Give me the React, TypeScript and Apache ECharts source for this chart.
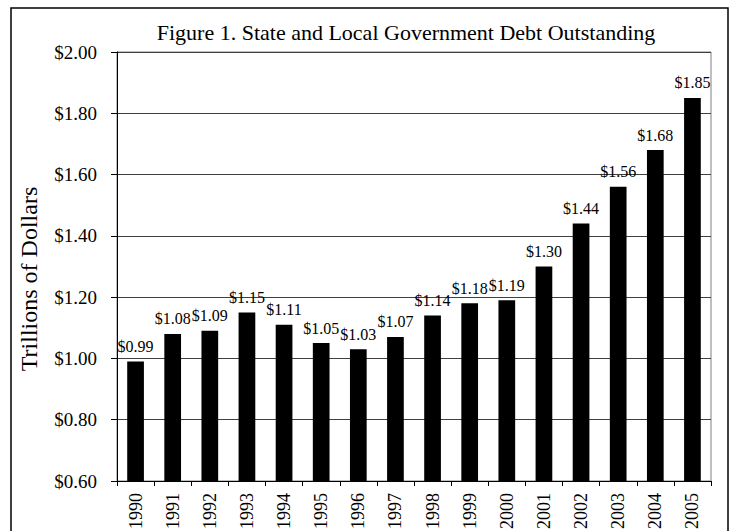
import React, { useEffect, useRef } from "react";
import * as echarts from "echarts";

const years = ["1990","1991","1992","1993","1994","1995","1996","1997","1998","1999","2000","2001","2002","2003","2004","2005"];
const debt = [0.99, 1.08, 1.09, 1.15, 1.11, 1.05, 1.03, 1.07, 1.14, 1.18, 1.19, 1.30, 1.44, 1.56, 1.68, 1.85];
const titleText = "Figure 1. State and Local Government Debt Outstanding";
const yAxisTitle = "Trillions of Dollars";

const FONT = "Liberation Serif";

export default function App() {
  const ref = useRef<HTMLDivElement>(null);
  useEffect(() => {
    const chart = echarts.init(ref.current!, null, { renderer: "svg" });
    chart.setOption({
      animation: false,
      backgroundColor: "#fff",
      title: {
        text: titleText,
        left: 401,
        textAlign: "center",
        top: 16,
        textStyle: { fontFamily: FONT, fontSize: 22, fontWeight: "normal", color: "#000" },
      },
      graphic: [
        {
          type: "rect",
          shape: { x: 11, y: 8, width: 717, height: 540 },
          style: { fill: "none", stroke: "#000", lineWidth: 1.5 },
          silent: true,
        },
        {
          type: "text",
          x: 29,
          y: 279,
          rotation: Math.PI / 2,
          style: {
            text: yAxisTitle,
            fontFamily: FONT,
            fontSize: 24,
            fill: "#000",
            align: "center",
            verticalAlign: "middle",
          },
        },
      ],
      grid: {
        left: 117, right: 22, top: 52, bottom: 50,
        outerBoundsMode: "none", containLabel: false,
        show: true, borderColor: "#808080", borderWidth: 1,
      },
      xAxis: {
        type: "category",
        data: years,
        axisLine: { lineStyle: { color: "#000" } },
        axisTick: { show: true, length: 5, lineStyle: { color: "#000" } },
        axisLabel: {
          rotate: 90,
          margin: 12,
          fontFamily: FONT,
          fontSize: 18,
          color: "#000",
        },
      },
      yAxis: {
        type: "value",
        min: 0.6,
        max: 2.0,
        interval: 0.2,
        axisLine: { show: true, lineStyle: { color: "#000" } },
        axisTick: { show: true, length: 6, lineStyle: { color: "#000" } },
        splitLine: { lineStyle: { color: "#404040", width: 1 } },
        axisLabel: {
          margin: 20,
          fontFamily: FONT,
          fontSize: 19,
          color: "#000",
          formatter: (v: number) => "$" + v.toFixed(2),
        },
      },
      series: [
        {
          type: "bar",
          data: debt,
          barWidth: "45%",
          itemStyle: { color: "#000" },
          label: {
            show: true,
            position: "top",
            distance: 7,
            fontFamily: FONT,
            fontSize: 16,
            color: "#000",
            formatter: (p: any) => "$" + p.value.toFixed(2),
          },
        },
      ],
    });
    return () => chart.dispose();
  }, []);
  return <div ref={ref} style={{ position: "fixed", left: 0, top: 0, width: 733, height: 531 }} />;
}
